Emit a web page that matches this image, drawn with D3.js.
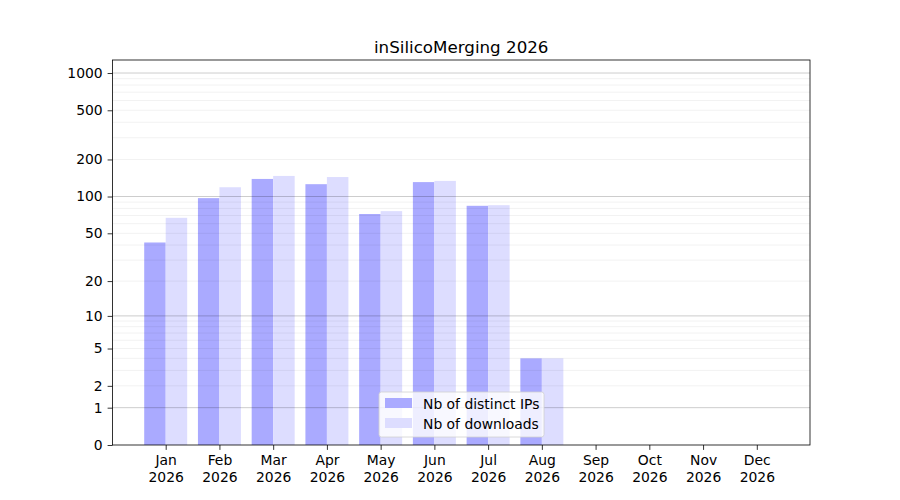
<!DOCTYPE html>
<html>
<head>
  <title>inSilicoMerging 2026</title>
  <style type="text/css">
    body { margin: 0; background: #fff; }
    svg text { font-family: "DejaVu Sans", sans-serif; }
  </style>
</head>
<body>

<div id="chart"></div>

<script src="https://d3js.org/d3.v7.min.js"></script>
<script type="text/javascript">
var months = ["Jan", "Feb", "Mar", "Apr", "May", "Jun", "Jul", "Aug", "Sep", "Oct", "Nov", "Dec"];
var year = "2026";
var distinctIPs = [42, 97, 139, 126, 72, 131, 84, 4, 0, 0, 0, 0];
var downloads = [67, 119, 147, 144, 76, 134, 85, 4, 0, 0, 0, 0];
var yTicks = [0, 1, 2, 5, 10, 20, 50, 100, 200, 500, 1000];
var majorGrid = [1, 10, 100, 1000];
var minorGrid = [2, 3, 4, 5, 6, 7, 8, 9, 20, 30, 40, 50, 60, 70, 80, 90, 200, 300, 400, 500, 600, 700, 800, 900];

var width = 900, height = 500;
var m = {left: 112.5, right: 810, top: 60, bottom: 445};
var fs = 13.9;

var svg = d3.select("#chart")
  .append("svg")
  .attr("width", width)
  .attr("height", height);

var x = d3.scaleLinear().domain([-0.99, 11.99]).range([m.left, m.right]);
var y = d3.scaleSymlog().constant(1).domain([0, 1274]).range([m.bottom, m.top]);
var bw = x(0.4) - x(0);

// bars
svg.append("g")
  .selectAll("rect")
  .data(distinctIPs)
  .enter()
  .append("rect")
    .attr("x", (d, i) => x(i - 0.4))
    .attr("y", d => y(d))
    .attr("width", bw)
    .attr("height", d => y(0) - y(d))
    .attr("fill", "#aaaaff");

svg.append("g")
  .selectAll("rect")
  .data(downloads)
  .enter()
  .append("rect")
    .attr("x", (d, i) => x(i))
    .attr("y", d => y(d))
    .attr("width", bw)
    .attr("height", d => y(0) - y(d))
    .attr("fill", "#ddddff");

// grid on top, faint
svg.append("g")
  .selectAll("line")
  .data(minorGrid)
  .enter()
  .append("line")
    .attr("x1", m.left).attr("x2", m.right)
    .attr("y1", d => y(d)).attr("y2", d => y(d))
    .attr("stroke", "#000").attr("stroke-opacity", 0.07).attr("stroke-width", 0.8);

svg.append("g")
  .selectAll("line")
  .data(majorGrid)
  .enter()
  .append("line")
    .attr("x1", m.left).attr("x2", m.right)
    .attr("y1", d => y(d)).attr("y2", d => y(d))
    .attr("stroke", "#000").attr("stroke-opacity", 0.25).attr("stroke-width", 0.8);

// axes
var yAxis = d3.axisLeft(y).tickValues(yTicks).tickFormat(d3.format("d")).tickSize(4.9).tickPadding(4.9);
var gy = svg.append("g")
  .attr("transform", "translate(" + m.left + ",0)")
  .call(yAxis);

var xAxis = d3.axisBottom(x).tickValues(d3.range(12)).tickFormat(i => months[i]).tickSize(4.9).tickPadding(4.9);
var gx = svg.append("g")
  .attr("transform", "translate(0," + m.bottom + ")")
  .call(xAxis);

gx.selectAll(".tick text").each(function(i) {
  var t = d3.select(this);
  t.text(null);
  t.append("tspan").attr("x", 0).attr("dy", "0.76em").text(months[i]);
  t.append("tspan").attr("x", 0).attr("dy", "1.18em").text(year);
});

[gx, gy].forEach(g => {
  g.select(".domain").remove();
  g.selectAll(".tick line").attr("stroke", "#000").attr("stroke-width", 0.8);
  g.selectAll(".tick text").attr("font-size", fs).attr("fill", "#000")
    .style("font-family", "'DejaVu Sans', sans-serif");
});

// frame
svg.append("rect")
  .attr("x", m.left).attr("y", m.top)
  .attr("width", m.right - m.left).attr("height", m.bottom - m.top)
  .attr("fill", "none").attr("stroke", "#000").attr("stroke-width", 0.8);

// title
svg.append("text")
  .attr("x", (m.left + m.right) / 2)
  .attr("y", m.top - 7)
  .attr("text-anchor", "middle")
  .attr("font-size", 16.7)
  .text("inSilicoMerging 2026");

// legend
var legendItems = [
  {label: "Nb of distinct IPs", color: "#aaaaff"},
  {label: "Nb of downloads", color: "#ddddff"}
];
var lg = svg.append("g").attr("transform", "translate(379,392)");
lg.append("rect")
  .attr("width", 165).attr("height", 45).attr("rx", 2.5)
  .attr("fill", "#fff").attr("fill-opacity", 0.8)
  .attr("stroke", "#d0d0d0").attr("stroke-width", 0.8);
var li = lg.selectAll(".item")
  .data(legendItems)
  .enter()
  .append("g")
    .attr("transform", (d, i) => "translate(6," + (6 + i * 20) + ")");
li.append("rect")
  .attr("width", 27).attr("height", 10)
  .attr("y", 0)
  .attr("fill", d => d.color);
li.append("text")
  .attr("x", 38).attr("y", 10.5)
  .attr("font-size", fs)
  .text(d => d.label);
</script>
</body>
</html>
